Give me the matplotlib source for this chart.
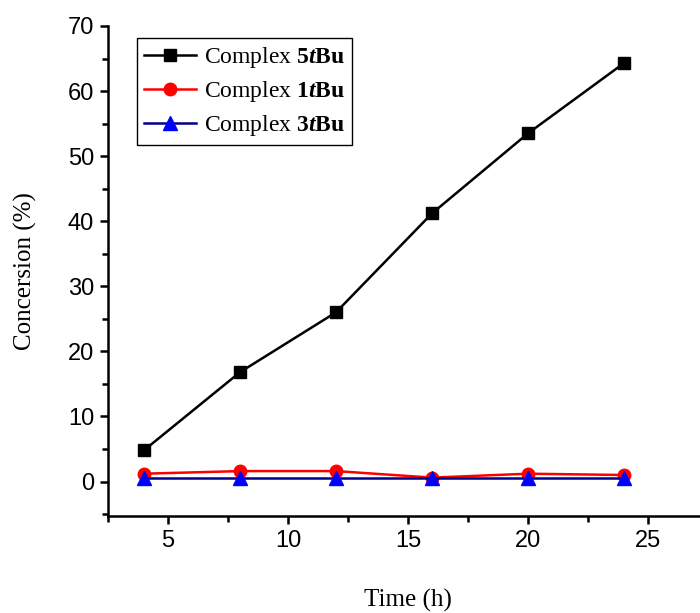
import numpy as np
import matplotlib
matplotlib.use("Agg")
import matplotlib.pyplot as plt
from matplotlib.ticker import MultipleLocator

plt.rcParams['mathtext.fontset'] = 'custom'
plt.rcParams['mathtext.rm'] = 'Liberation Serif'
plt.rcParams['mathtext.bf'] = 'Liberation Serif:bold'
plt.rcParams['mathtext.it'] = 'Liberation Serif:italic'
plt.rcParams['mathtext.bfit'] = 'Liberation Serif:bold:italic'

# data
time_h = [4, 8, 12, 16, 20, 24]
conv_5tbu = [4.8, 16.8, 26.0, 41.2, 53.5, 64.3]
conv_1tbu = [1.2, 1.6, 1.6, 0.6, 1.2, 1.0]
conv_3tbu = [0.5, 0.5, 0.5, 0.5, 0.5, 0.5]
labels = [r'Complex $\mathbf{5}\mathbfit{t}\mathbf{Bu}$',
          r'Complex $\mathbf{1}\mathbfit{t}\mathbf{Bu}$',
          r'Complex $\mathbf{3}\mathbfit{t}\mathbf{Bu}$']

fig = plt.figure(figsize=(7, 6.13), dpi=100)
ax = fig.add_axes([108/700, 1-516/613, 600/700, 490/613])

ax.plot(time_h, conv_5tbu, '-s', color='black', lw=1.8, ms=9, label=labels[0])
ax.plot(time_h, conv_1tbu, '-o', color='red', lw=1.8, ms=9, label=labels[1])
ax.plot(time_h, conv_3tbu, '-^', color='#00008B', mfc='blue', mec='blue',
        lw=1.8, ms=10, label=labels[2])

ax.set_xlim(2.5, 27.5)
ax.set_ylim(-5.3, 70)
ax.xaxis.set_major_locator(MultipleLocator(5))
ax.xaxis.set_minor_locator(MultipleLocator(2.5))
ax.yaxis.set_major_locator(MultipleLocator(10))
ax.yaxis.set_minor_locator(MultipleLocator(5))
ax.set_xticks([5, 10, 15, 20, 25])

for s in ['top', 'right']:
    ax.spines[s].set_visible(False)
for s in ['left', 'bottom']:
    ax.spines[s].set_linewidth(1.8)
ax.tick_params(which='major', direction='out', length=6, width=1.8, pad=4,
               labelsize=17, labelfontfamily='Liberation Sans')
ax.tick_params(which='minor', direction='out', length=4, width=1.8)

ax.set_xlabel('Time (h)', family='Liberation Serif', fontsize=18, labelpad=27)
ax.set_ylabel('Concersion (%)', family='Liberation Serif', fontsize=18, labelpad=22)

leg = ax.legend(loc='upper left', bbox_to_anchor=(0.049, 0.976),
                prop={'family': 'Liberation Serif', 'size': 17},
                fancybox=False, edgecolor='black', framealpha=1,
                handlelength=2.2, borderpad=0.3, labelspacing=0.38,
                handletextpad=0.3, borderaxespad=0)
leg.get_frame().set_linewidth(1.0)

fig.savefig('out.png', dpi=100)
